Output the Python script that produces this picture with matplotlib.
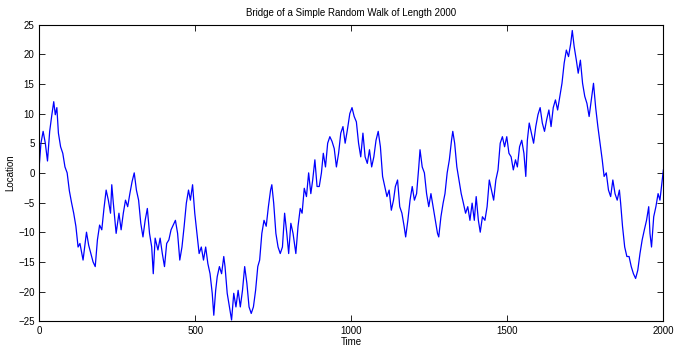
import matplotlib
matplotlib.use('Agg')
import matplotlib.pyplot as plt

# values (time step, location)
time = [0, 5, 12, 19, 26, 33, 40, 46, 51, 56, 61, 68, 75, 82, 89, 96, 103, 110, 117,
        124, 130, 140, 151, 158, 165, 172, 179, 186, 193, 200, 207, 214, 221, 228, 232,
        237, 246, 255, 262, 269, 276, 283, 290, 297, 304, 311, 318, 325, 332, 339, 346,
        353, 360, 365, 371, 380, 387, 394, 401, 408, 415, 422, 429, 436, 443, 450, 457,
        464, 471, 478, 484, 491, 498, 505, 512, 519, 526, 533, 540, 547, 554, 559, 565,
        570, 577, 584, 591, 595, 602, 609, 616, 623, 630, 637, 644, 651, 658, 665, 672,
        679, 686, 693, 700, 706, 713, 720, 727, 734, 741, 745, 751, 758, 765, 772, 779,
        786, 793, 799, 806, 813, 822, 829, 836, 842, 849, 856, 863, 870, 876, 883, 890,
        897, 904, 910, 917, 924, 931, 938, 945, 952, 959, 966, 973, 980, 987, 995, 1002,
        1009, 1016, 1023, 1030, 1037, 1044, 1051, 1058, 1065, 1072, 1079, 1086, 1093,
        1100, 1107, 1114, 1121, 1128, 1135, 1141, 1148, 1155, 1162, 1169, 1174, 1181,
        1188, 1195, 1202, 1209, 1216, 1220, 1227, 1234, 1241, 1248, 1255, 1262, 1269,
        1276, 1280, 1287, 1294, 1300, 1307, 1314, 1321, 1325, 1331, 1338, 1345, 1352,
        1359, 1366, 1373, 1380, 1387, 1394, 1400, 1407, 1413, 1420, 1428, 1435, 1442,
        1449, 1456, 1463, 1470, 1477, 1484, 1491, 1498, 1505, 1512, 1519, 1526, 1532,
        1539, 1546, 1553, 1559, 1564, 1570, 1577, 1584, 1591, 1598, 1605, 1612, 1619,
        1626, 1633, 1640, 1647, 1654, 1661, 1668, 1675, 1682, 1689, 1696, 1703, 1708,
        1714, 1721, 1727, 1734, 1741, 1748, 1755, 1762, 1769, 1776, 1783, 1790, 1797,
        1804, 1810, 1817, 1824, 1831, 1838, 1845, 1852, 1859, 1863, 1869, 1876, 1883,
        1890, 1897, 1904, 1911, 1918, 1925, 1932, 1939, 1946, 1953, 1957, 1962, 1969,
        1976, 1983, 1989, 1995, 2000]
location = [1.5, 5, 7, 5, 2, 7, 9.8, 12, 9.8, 11, 6.7, 4.4, 3.3, 1, 0, -3, -5, -6.8, -9,
            -12.5, -11.9, -14.7, -10, -12.2, -13.6, -15, -15.8, -11.3, -8.8, -9.6, -6, -2.9,
            -4.6, -6.8, -2, -5.1, -10.2, -6.8, -9.6, -6.8, -4.6, -5.7, -3.5, -1.5, 0, -2.9,
            -4.6, -8.5, -10.8, -8, -6, -10.2, -12.5, -17, -11, -13, -11, -13.6, -15.8, -11.9,
            -11.3, -9.6, -8.8, -8, -10.2, -14.7, -12.5, -9, -5.1, -2.9, -4.6, -2, -6.8, -10.2,
            -13.6, -12.5, -14.7, -12.5, -15.3, -17, -20.3, -24, -19.8, -17.5, -15.8, -17,
            -14.1, -15.8, -20.3, -22.6, -24.8, -20.3, -22.6, -19.8, -22.6, -19.8, -15.8,
            -18.6, -22.6, -23.7, -22.6, -19.8, -15.8, -14.7, -10.2, -8, -9, -5.7, -2.9, -2,
            -5.1, -10.2, -12.5, -13.6, -12.5, -6.8, -10.2, -13.6, -8.5, -10.2, -13.6, -9, -6,
            -6.8, -2.6, -4, 0, -3.5, -1.2, 2.2, -2.3, -2.3, 0, 3.3, 1, 5, 6.1, 5.3, 4.1, 1,
            3.3, 6.7, 7.8, 5, 7.2, 10, 11, 9.5, 8.6, 5, 2.7, 6.7, 2.7, 1.6, 3.9, 1, 2.7, 5.5,
            7, 4.4, -0.6, -2.3, -4, -2.9, -6.3, -4.6, -2.3, -1.2, -5.7, -6.8, -9, -10.8, -8,
            -4.6, -2.3, -4.6, -3.5, 1, 3.9, 1, 0, -3.5, -5.7, -3.5, -5.7, -8, -10.2, -10.8,
            -7.4, -5.1, -3.5, 0, 2.2, 5.5, 7, 5, 1, -1.2, -3.5, -5.1, -6.8, -5.7, -8, -5.1,
            -8, -4, -8, -10, -7.4, -8, -5.7, -1.2, -2.9, -4.6, -1.2, 0.5, 5, 6.1, 4.4, 6.1,
            3.3, 2.7, 0.5, 2.2, 1, 4.4, 5.5, 3.3, -0.6, 5.5, 8.4, 6.7, 5, 7.8, 9.8, 11, 8.4,
            7, 9, 10.6, 7.8, 11, 12.3, 10.6, 12.9, 15.1, 18.5, 20.7, 19.6, 21.8, 24, 21.3,
            19, 16.8, 19, 15.1, 12.9, 11.7, 9.5, 12.3, 15.1, 11, 7.8, 5, 2.2, -0.6, 0, -2.9,
            -4, -1.2, -3.5, -4.6, -2.9, -5.1, -9, -12.5, -14.1, -14.1, -15.8, -17, -17.8,
            -16.4, -13.6, -11.3, -9.6, -8, -5.7, -10.2, -12.5, -7.4, -5.7, -3.5, -4.6, -1.8,
            0.5]

x_ticks = [0, 500, 1000, 1500, 2000]
y_ticks = [-25, -20, -15, -10, -5, 0, 5, 10, 15, 20, 25]

plt.rcParams['font.family'] = ['Liberation Sans', 'DejaVu Sans']

fig = plt.figure(figsize=(6.79, 3.51), dpi=100)
ax = fig.add_axes([0.058, 0.085, 0.919, 0.845])
ax.plot(time, location, color='#0000ff', linewidth=0.9)

ax.set_xlim(0, 2000)
ax.set_ylim(-25, 25)
ax.set_xticks(x_ticks)
ax.set_yticks(y_ticks)
ax.tick_params(direction='in', top=True, right=True, labelsize=7, length=4, width=0.6)
for s in ax.spines.values():
    s.set_linewidth(0.8)

ax.set_title('Bridge of a Simple Random Walk of Length 2000', fontsize=7, pad=6)
ax.set_xlabel('Time', fontsize=7, labelpad=1)
ax.set_ylabel('Location', fontsize=7, labelpad=2)

fig.savefig('out.png', dpi=100)
